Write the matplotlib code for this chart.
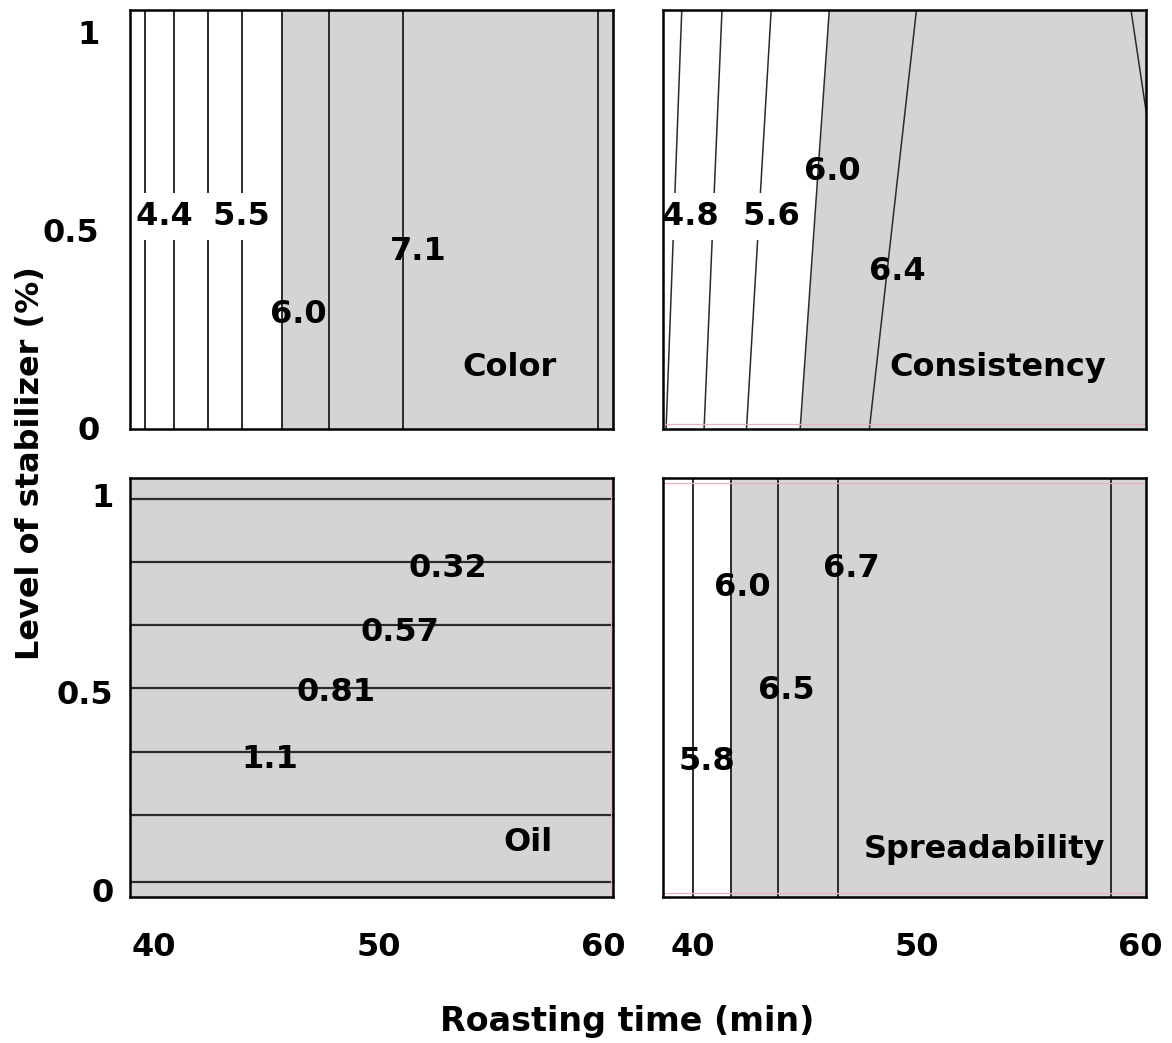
import matplotlib
matplotlib.use("Agg")
import matplotlib.pyplot as plt

plt.rcParams['font.family'] = ['DejaVu Sans']
plt.rcParams['font.weight'] = 'bold'

# contour positions (roasting time in min / stabilizer level in %)
color_lines = [39.6, 40.9, 42.4, 43.9, 45.7, 47.8, 51.1, 59.8]
color_gray_from = 45.7

cons_bottom = [38.8, 40.5, 42.4, 44.8, 47.9]
cons_top = [39.5, 41.3, 43.5, 46.1, 50.0]
cons_corner_x = [59.6, 60.3]
cons_corner_y = [1.055, 0.79]
cons_gray = 3   # index of the 6.0 contour

oil_lines = [0.99, 0.83, 0.67, 0.51, 0.35, 0.19, 0.02]

spread_lines = [40.0, 41.7, 43.8, 46.5, 58.7]
spread_gray_from = 41.7

x_ticks = [40, 50, 60]
y_ticks = [0, 0.5, 1]
y_ticklabels = ['0', '0.5', '1']

GRAY = '#d4d4d4'
LINE = '#2b2b2b'
PINK = '#e8b4bc'
FS = 23

fig = plt.figure(figsize=(11.72, 10.43), dpi=100)
ax_c = fig.add_axes([0.1109, 0.5887, 0.4121, 0.4017])
ax_k = fig.add_axes([0.5657, 0.5887, 0.4121, 0.4017])
ax_o = fig.add_axes([0.1109, 0.1400, 0.4121, 0.4017])
ax_s = fig.add_axes([0.5657, 0.1400, 0.4121, 0.4017])

ax_c.set_xlim(38.93, 60.45)
ax_o.set_xlim(38.93, 60.45)
ax_k.set_xlim(38.66, 60.27)
ax_s.set_xlim(38.66, 60.27)
for ax in (ax_c, ax_k):
    ax.set_ylim(-0.003, 1.055)
for ax in (ax_o, ax_s):
    ax.set_ylim(-0.018, 1.043)

for ax in (ax_c, ax_k, ax_o, ax_s):
    for s in ax.spines.values():
        s.set_linewidth(1.8)
        s.set_color('black')
    ax.set_xticks(x_ticks)
    ax.set_yticks(y_ticks)
    ax.set_yticklabels(y_ticklabels)
    ax.tick_params(length=0, labelsize=FS)
ax_c.tick_params(labelbottom=False, pad=22)
ax_k.tick_params(labelbottom=False, labelleft=False)
ax_o.tick_params(axis='y', pad=12)
ax_o.tick_params(axis='x', pad=25)
ax_s.tick_params(labelleft=False)
ax_s.tick_params(axis='x', pad=25)

gap = dict(boxstyle='square,pad=0.25', fc='white', ec='none')

# Color
ax_c.axvspan(color_gray_from, 61, color=GRAY, lw=0, zorder=0)
for x in color_lines:
    ax_c.axvline(x, color=LINE, lw=1.4, zorder=1)
ax_c.axvline(60.42, color=PINK, lw=0.8, zorder=1)
ax_c.text(40.45, 0.533, ' 4.4 ', fontsize=FS, ha='center', va='center', bbox=gap, zorder=2)
ax_c.text(43.65, 0.533, ' 5.5', fontsize=FS, ha='center', va='center', bbox=gap, zorder=2)
ax_c.text(51.76, 0.444, '7.1', fontsize=FS, ha='center', va='center', zorder=3)
ax_c.text(46.42, 0.285, '6.0', fontsize=FS, ha='center', va='center', zorder=3)
ax_c.text(55.86, 0.152, 'Color', fontsize=FS, ha='center', va='center', zorder=3)

# Consistency
ys = [0, 1.055]
ax_k.fill_betweenx(ys, [cons_bottom[cons_gray], cons_top[cons_gray]], 61, color=GRAY, lw=0, zorder=0)
for xb, xt in zip(cons_bottom, cons_top):
    ax_k.plot([xb, xt], ys, color=LINE, lw=1.1, zorder=1)
ax_k.plot(cons_corner_x, cons_corner_y, color=LINE, lw=1.1, zorder=1)
ax_k.axhline(0.01, color=PINK, lw=0.9, zorder=1)
ax_k.text(40.14, 0.533, '4.8 ', fontsize=FS, ha='center', va='center', bbox=gap, zorder=2)
ax_k.text(43.25, 0.533, ' 5.6', fontsize=FS, ha='center', va='center', bbox=gap, zorder=2)
ax_k.text(46.22, 0.646, '6.0', fontsize=FS, ha='center', va='center', zorder=3)
ax_k.text(49.13, 0.394, '6.4', fontsize=FS, ha='center', va='center', zorder=3)
ax_k.text(53.65, 0.152, 'Consistency', fontsize=FS, ha='center', va='center', zorder=3)

# Oil
ax_o.set_facecolor(GRAY)
for y in oil_lines:
    ax_o.axhline(y, color=LINE, lw=1.6, zorder=1)
ax_o.axvline(60.38, color=PINK, lw=0.8, zorder=1)
ax_o.text(53.10, 0.815, '0.32', fontsize=FS, ha='center', va='center', zorder=3)
ax_o.text(50.96, 0.653, '0.57', fontsize=FS, ha='center', va='center', zorder=3)
ax_o.text(48.11, 0.499, '0.81', fontsize=FS, ha='center', va='center', zorder=3)
ax_o.text(45.17, 0.329, '1.1', fontsize=FS, ha='center', va='center', zorder=3)
ax_o.text(56.67, 0.119, 'Oil', fontsize=FS, ha='center', va='center', zorder=3)

# Spreadability
ax_s.axvspan(spread_gray_from, 61, color=GRAY, lw=0, zorder=0)
for x in spread_lines:
    ax_s.axvline(x, color=LINE, lw=1.4, zorder=1)
ax_s.axhline(-0.008, color=PINK, lw=0.9, zorder=1)
ax_s.axhline(1.03, color=PINK, lw=0.9, zorder=1)
ax_s.text(42.19, 0.765, '6.0', fontsize=FS, ha='center', va='center', zorder=3)
ax_s.text(47.07, 0.815, '6.7', fontsize=FS, ha='center', va='center', zorder=3)
ax_s.text(44.16, 0.506, '6.5', fontsize=FS, ha='center', va='center', zorder=3)
ax_s.text(40.63, 0.324, '5.8', fontsize=FS, ha='center', va='center', zorder=3)
ax_s.text(53.02, 0.101, 'Spreadability', fontsize=FS, ha='center', va='center', zorder=3)

fig.text(627 / 1172, 1 - 1022 / 1043, 'Roasting time (min)', fontsize=FS + 1,
         ha='center', va='center')
fig.text(31 / 1172, 1 - 463 / 1043, 'Level of stabilizer (%)', fontsize=FS,
         ha='center', va='center', rotation=90)

fig.savefig('out.png', dpi=100)
